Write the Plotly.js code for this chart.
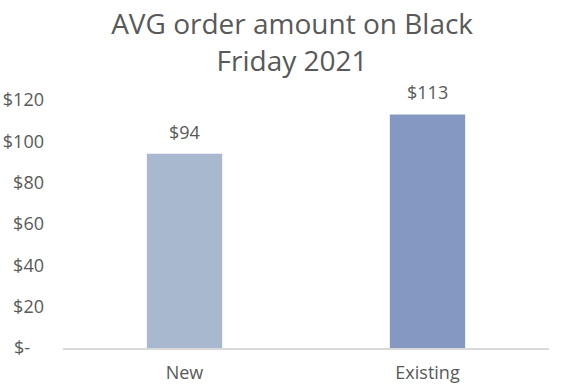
<!DOCTYPE html>
<html>
<head>
<meta charset="utf-8">
<script src="https://cdn.plot.ly/plotly-3.0.1.min.js"></script>
<style>html,body{margin:0;padding:0;background:#fff;}#chart{width:565px;height:392px;}</style>
</head>
<body>
<div id="chart"></div>
<script>
var categories = ["New", "Existing"];
var values = [94, 113];
var valueLabels = ["$94", "$113"];
var barColors = ["#A7B8CF", "#8598C1"];
var tickValues = [0, 20, 40, 60, 80, 100, 120];
var tickLabels = ["$-\u00a0\u00a0\u00a0", "$20", "$40", "$60", "$80", "$100", "$120"];

var font = "Open Sans, sans-serif";
var grey = "#595959";

var trace = {
  type: "bar",
  x: categories,
  y: values,
  marker: {color: barColors},
  width: 0.31,
  hoverinfo: "none"
};

var annotations = categories.map(function (c, i) {
  return {
    x: c, y: values[i], xref: "x", yref: "y",
    text: valueLabels[i], showarrow: false,
    yanchor: "bottom", yshift: 8,
    font: {family: font, size: 18, color: grey}
  };
});

var layout = {
  width: 565, height: 392,
  margin: {l: 63, r: 16, t: 100, b: 44},
  paper_bgcolor: "#fff", plot_bgcolor: "#fff",
  showlegend: false,
  title: {
    text: "AVG order amount on Black<br>Friday 2021",
    x: 0.517, xanchor: "center", y: 0.912, yanchor: "middle",
    font: {family: font, size: 28, color: grey}
  },
  xaxis: {
    type: "category",
    range: [-0.5, 1.5],
    showline: true, linecolor: "#D9D9D9", linewidth: 1.5,
    ticks: "", showgrid: false, zeroline: false,
    ticklabelstandoff: 8,
    tickfont: {family: font, size: 18, color: grey}
  },
  yaxis: {
    range: [0, 120],
    tickmode: "array", tickvals: tickValues, ticktext: tickLabels,
    showgrid: false, zeroline: false, showline: false, ticks: "",
    ticklabelstandoff: 18,
    tickfont: {family: font, size: 18, color: grey}
  },
  annotations: annotations
};

Plotly.newPlot("chart", [trace], layout, {displayModeBar: false, staticPlot: true});
</script>
</body>
</html>
